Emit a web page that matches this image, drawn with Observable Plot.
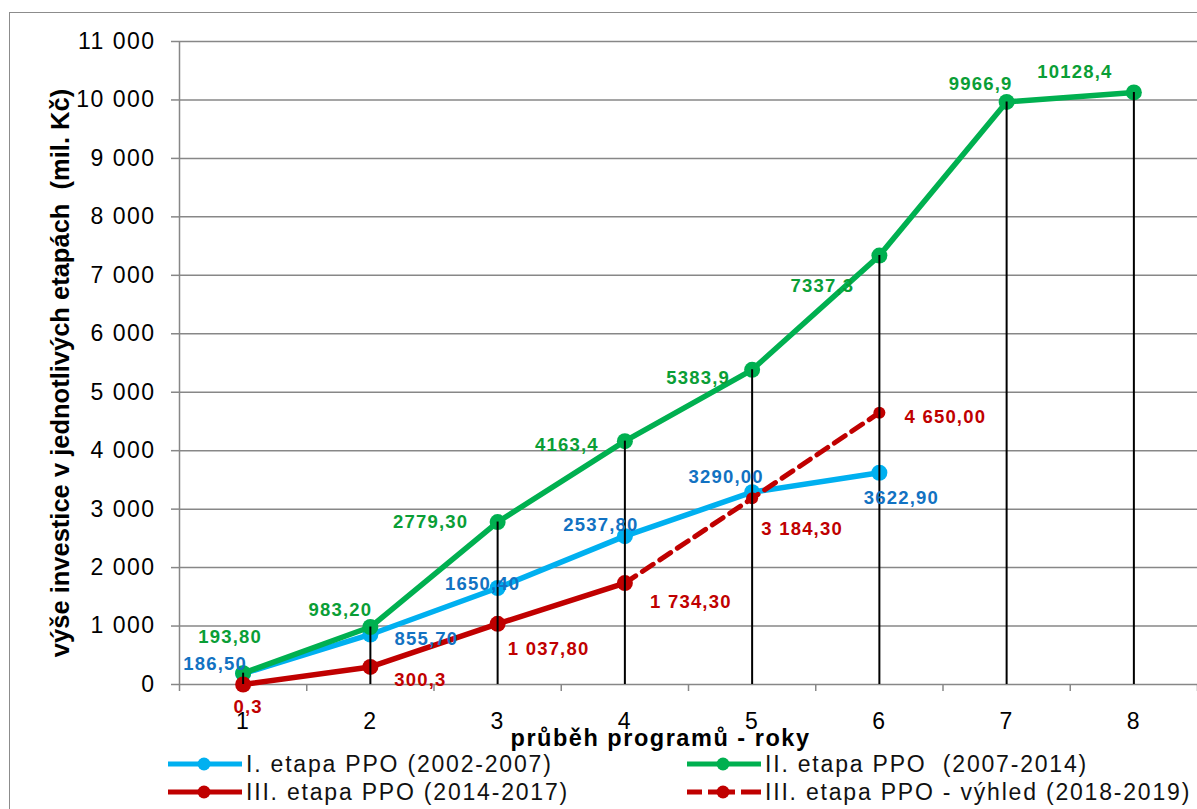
<!DOCTYPE html>
<html><head><meta charset="utf-8">
<script src="https://cdn.jsdelivr.net/npm/d3@7"></script>
<script src="https://cdn.jsdelivr.net/npm/@observablehq/plot@0.6"></script>
<style>
body{margin:0;background:#fff;font-family:"Liberation Sans",Arial,sans-serif;}
#wrap{position:relative;width:1197px;height:809px;overflow:hidden;background:#fff}
#frame{position:absolute;left:9px;top:12px;width:1300px;height:900px;border-left:1.5px solid #8c8c8c;border-top:1.5px solid #8c8c8c;pointer-events:none}
#chart svg text{letter-spacing:0.065em}
#legend{position:relative;width:1197px;height:59px;}
.item{position:absolute;display:flex;align-items:center;height:28px;font-size:23px;letter-spacing:1.8px;color:#111;white-space:pre}
.item svg{margin-right:4px;flex:none}
</style></head><body>
<div id="wrap"><div id="chart"></div><div id="legend"></div><div id="frame"></div></div>
<script>
// ---- data ----
const years = [1, 2, 3, 4, 5, 6, 7, 8];
const etapa1 = [186.5, 855.7, 1650.4, 2537.8, 3290.0, 3622.9];            // years 1..6
const etapa2 = [193.8, 983.2, 2779.3, 4163.4, 5383.9, 7337.3, 9966.9, 10128.4]; // years 1..8
const etapa3 = [0.3, 300.3, 1037.8, 1734.3];                              // years 1..4
const vyhledYears = [4, 5, 6];
const vyhled = [1734.3, 3184.3, 4650.0];
const labels1 = ["186,50", "855,70", "1650,40", "2537,80", "3290,00", "3622,90"];
const labels2 = ["193,80", "983,20", "2779,30", "4163,4", "5383,9", "7337,3", "9966,9", "10128,4"];
const labels3 = ["0,3", "300,3", "1 037,80", "1 734,30"];
const labelsV = [null, "3 184,30", "4 650,00"];
const yTicks = [0, 1000, 2000, 3000, 4000, 5000, 6000, 7000, 8000, 9000, 10000, 11000];
const seriesNames = ["I. etapa PPO (2002-2007)", "II. etapa PPO  (2007-2014)", "III. etapa PPO (2014-2017)", "III. etapa PPO - výhled (2018-2019)"];
const yTitle = "výše investice v jednotlivých etapách \u00a0(mil. Kč)";
const xTitle = "průběh programů - roky";

// label placement (pixel offsets from each point)
const off1 = [[-28,-10],[56,5],[-15,-4],[-24,-11],[-26,-15],[22,25]];
const off2 = [[-13,-36],[-30,-17],[-67,0],[-58,4],[-54,8],[-57,30],[-26,-18],[-59,-20]];
const off3 = [[5,23],[50,13],[51,25],[66,19]];
const offV = [[0,0],[50,31],[66,4]];

// colours
const cBlue = "#00B0F0", cBlueTxt = "#1272C2";
const cGreen = "#00B050", cGreenTxt = "#0A9E36";
const cRed = "#C00000";
const cGrid = "#878787";

const s1 = etapa1.map((v, i) => ({year: years[i], value: v, label: labels1[i]}));
const s2 = etapa2.map((v, i) => ({year: years[i], value: v, label: labels2[i]}));
const s3 = etapa3.map((v, i) => ({year: years[i], value: v, label: labels3[i]}));
const sV = vyhled.map((v, i) => ({year: vyhledYears[i], value: v, label: labelsV[i]}));

const fmt = d => d3.format(",")(d).replace(/,/g, " ");
const boundaries = d3.range(0.5, 9, 1);

function labelMarks(data, offs, fill) {
  return data.map((d, i) => d.label == null ? null : Plot.text([d], {
    x: "year", y: "value", text: "label", dx: offs[i][0], dy: offs[i][1],
    fill, fontSize: 18.5, fontWeight: "bold"
  })).filter(Boolean);
}

const chart = Plot.plot({
  width: 1197, height: 750,
  marginLeft: 179, marginRight: 0, marginTop: 41, marginBottom: 66,
  style: {fontFamily: "Liberation Sans, Arial, sans-serif", fontSize: "23px", color: "#000", background: "transparent", overflow: "visible"},
  x: {type: "linear", domain: [0.5, 8.5], label: null},
  y: {domain: [0, 11000], label: null},
  marks: [
    Plot.gridY(yTicks, {stroke: cGrid, strokeOpacity: 1, strokeWidth: 1.5}),
    Plot.axisY({ticks: yTicks, tickSize: 8, tickPadding: 16, tickFormat: fmt, fontSize: 23, stroke: cGrid, strokeWidth: 1.5, fill: "#000", label: null}),
    Plot.ruleX([0.5], {y1: 0, y2: 11000, stroke: cGrid, strokeWidth: 1.5}),
    Plot.axisX({ticks: boundaries, tickSize: 7, tickFormat: () => "", stroke: cGrid, strokeWidth: 1.5, label: null}),
    Plot.axisX({ticks: years, tickSize: 0, tickPadding: 28, fontSize: 23, fill: "#000", label: null}),
    // series
    Plot.line(s1, {x: "year", y: "value", stroke: cBlue, strokeWidth: 5.5}),
    Plot.dot(s1, {x: "year", y: "value", r: 8, fill: cBlue}),
    Plot.line(s2, {x: "year", y: "value", stroke: cGreen, strokeWidth: 5.5}),
    Plot.dot(s2, {x: "year", y: "value", r: 8, fill: cGreen}),
    Plot.line(s3, {x: "year", y: "value", stroke: cRed, strokeWidth: 5.5}),
    Plot.dot(s3, {x: "year", y: "value", r: 8, fill: cRed}),
    Plot.line(sV, {x: "year", y: "value", stroke: cRed, strokeWidth: 5, strokeDasharray: "13,8"}),
    Plot.dot(sV.slice(1), {x: "year", y: "value", r: 6, fill: cRed}),
    // drop lines
    Plot.ruleX(s2, {x: "year", y1: 0, y2: "value", stroke: "#000", strokeWidth: 2}),
    // labels
    ...labelMarks(s1, off1, cBlueTxt),
    ...labelMarks(s2, off2, cGreenTxt),
    ...labelMarks(s3, off3, cRed),
    ...labelMarks(sV, offV, cRed),
    // titles
    Plot.text([yTitle], {text: d => d, frameAnchor: "left", textAnchor: "middle", lineAnchor: "middle", dx: -119, dy: 10, rotate: -90, fontSize: 25.5, fontWeight: "bold", fill: "#000"}),
    Plot.text([xTitle], {text: d => d, frameAnchor: "bottom", textAnchor: "middle", lineAnchor: "middle", dx: -28, dy: 54, fontSize: 23.5, fontWeight: "bold", fill: "#000"})
  ]
});
document.getElementById("chart").appendChild(chart);
d3.select(chart).selectAll("text").filter(function(){ return this.textContent === yTitle; }).style("letter-spacing", "0");

// ---- legend ----
const legend = d3.select("#legend");
const items = [
  {name: seriesNames[0], color: cBlue, dashed: false, left: 168, top: 0},
  {name: seriesNames[1], color: cGreen, dashed: false, left: 687, top: 0},
  {name: seriesNames[2], color: cRed, dashed: false, left: 168, top: 28},
  {name: seriesNames[3], color: cRed, dashed: true, left: 687, top: 28}
];
for (const it of items) {
  const div = legend.append("div").attr("class", "item").style("left", it.left + "px").style("top", it.top + "px");
  const sw = div.append("svg").attr("width", 74).attr("height", 20);
  sw.append("line").attr("x1", 0).attr("x2", 74).attr("y1", 10).attr("y2", 10)
    .attr("stroke", it.color).attr("stroke-width", 5)
    .attr("stroke-dasharray", it.dashed ? "15,6,27,6,20" : null);
  sw.append("circle").attr("cx", 36).attr("cy", 10).attr("r", 6.5).attr("fill", it.color);
  div.append("span").text(it.name);
}
</script>
</body></html>
